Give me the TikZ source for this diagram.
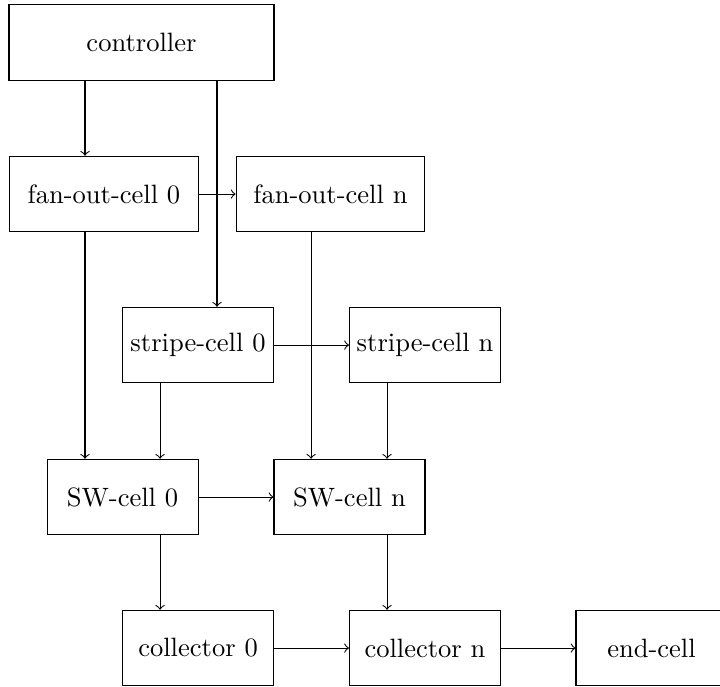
\documentclass[tikz,border=0pt]{standalone}
\begin{document}
\begin{tikzpicture}[
  box/.style={draw, rectangle, minimum height=1cm, inner sep=0pt},
  arr/.style={->}
]
\useasboundingbox (0,0) rectangle (9.536,-9.086);
\node[box, minimum width=3.51cm] (ctrl) at (1.874,-0.563) {controller};
\node[box, minimum width=2.5cm] (fan0) at (1.377,-2.570) {fan-out-cell 0};
\node[box, minimum width=2.5cm] (fann) at (4.377,-2.570) {fan-out-cell n};
\node[box, minimum width=2cm] (str0) at (2.623,-4.570) {stripe-cell 0};
\node[box, minimum width=2cm] (strn) at (5.629,-4.570) {stripe-cell n};
\node[box, minimum width=2cm] (sw0) at (1.623,-6.583) {SW-cell 0};
\node[box, minimum width=2cm] (swn) at (4.629,-6.583) {SW-cell n};
\node[box, minimum width=2cm] (col0) at (2.623,-8.583) {collector 0};
\node[box, minimum width=2cm] (coln) at (5.629,-8.583) {collector n};
\node[box, minimum width=2cm] (endc) at (8.629,-8.583) {end-cell};
\coordinate (xa) at (1.126,0);
\coordinate (xb) at (2.874,0);
\coordinate (xc) at (2.120,0);
\coordinate (xd) at (4.120,0);
\coordinate (xe) at (5.126,0);
\draw[arr] (ctrl.south -| xa) -- (fan0.north -| xa);
\draw[arr] (ctrl.south -| xb) -- (str0.north -| xb);
\draw[arr] (fan0) -- (fann);
\draw[arr] (fan0.south -| xa) -- (sw0.north -| xa);
\draw[arr] (fann.south -| xd) -- (swn.north -| xd);
\draw[arr] (str0) -- (strn);
\draw[arr] (str0.south -| xc) -- (sw0.north -| xc);
\draw[arr] (strn.south -| xe) -- (swn.north -| xe);
\draw[arr] (sw0) -- (swn);
\draw[arr] (sw0.south -| xc) -- (col0.north -| xc);
\draw[arr] (swn.south -| xe) -- (coln.north -| xe);
\draw[arr] (col0) -- (coln);
\draw[arr] (coln) -- (endc);
\end{tikzpicture}
\end{document}
